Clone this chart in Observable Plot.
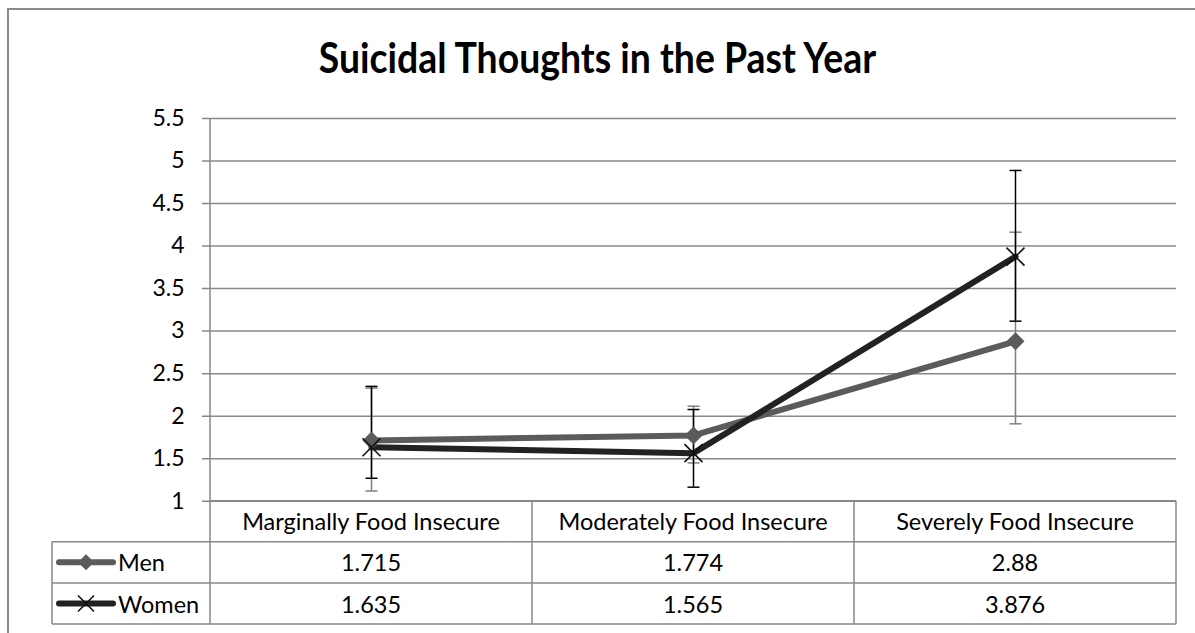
<!DOCTYPE html>
<html><head><meta charset="utf-8">
<script src="https://cdn.jsdelivr.net/npm/d3@7"></script>
<script src="https://cdn.jsdelivr.net/npm/@observablehq/plot@0.6"></script>
<style>
body{margin:0;background:#fff;}
#wrap{position:relative;width:1195px;height:633px;overflow:hidden;background:#fff;font-family:Lato,"Open Sans",sans-serif;color:#000;}
#wrap > *{position:absolute;}
.cell{display:flex;align-items:center;justify-content:center;font-size:23.5px;white-space:nowrap;}
</style></head><body><div id="wrap"></div>
<script>
// ---- data ----
const title = "Suicidal Thoughts in the Past Year";
const categories = ["Marginally Food Insecure", "Moderately Food Insecure", "Severely Food Insecure"];
const seriesNames = ["Men", "Women"];
const menValues = [1.715, 1.774, 2.88];
const womenValues = [1.635, 1.565, 3.876];
const menLow = [1.12, 1.45, 1.91];
const menHigh = [2.33, 2.117, 4.163];
const womenLow = [1.27, 1.165, 3.117];
const womenHigh = [2.35, 2.078, 4.889];
const yTicks = [1, 1.5, 2, 2.5, 3, 3.5, 4, 4.5, 5, 5.5];

// ---- styles ----
const menColor = "#5b5b5b", womenColor = "#222222";
const menBarColor = "#7f7f7f", womenBarColor = "#000000";
const gridColor = "#888888";

const W = 1195, H = 633;
const L = 210, R = 1176, T = 118, B = 500.7;

const men = categories.map((c, i) => ({cat: c, value: menValues[i], lo: menLow[i], hi: menHigh[i]}));
const women = categories.map((c, i) => ({cat: c, value: womenValues[i], lo: womenLow[i], hi: womenHigh[i]}));

const cap = {draw(ctx) { ctx.moveTo(-6, 0); ctx.lineTo(6, 0); }};
const diamond = {draw(ctx) { ctx.moveTo(0, -9); ctx.lineTo(9, 0); ctx.lineTo(0, 9); ctx.lineTo(-9, 0); ctx.closePath(); }};
const cross = {draw(ctx) { ctx.moveTo(-9, -9); ctx.lineTo(9, 9); ctx.moveTo(9, -9); ctx.lineTo(-9, 9); }};

const chart = Plot.plot({
  width: W, height: H,
  marginLeft: L, marginRight: W - R, marginTop: T, marginBottom: H - B,
  style: {fontFamily: "Lato, sans-serif", fontSize: "23px", color: "#000", background: "transparent", overflow: "visible"},
  x: {type: "point", domain: categories, padding: 0.5, axis: null},
  y: {domain: [1, 5.5], ticks: yTicks, tickSize: 0, tickPadding: 26, tickFormat: d => String(d)},
  marks: [
    Plot.ruleY(yTicks, {stroke: gridColor, strokeWidth: 1.5, insetLeft: -8}),
    Plot.line(men, {x: "cat", y: "value", stroke: menColor, strokeWidth: 6, strokeLinejoin: "round", strokeLinecap: "round"}),
    Plot.line(women, {x: "cat", y: "value", stroke: womenColor, strokeWidth: 6, strokeLinejoin: "round", strokeLinecap: "round"}),
    Plot.ruleX(men, {x: "cat", y1: "lo", y2: "hi", stroke: menBarColor, strokeWidth: 1.5}),
    Plot.dot(men, {x: "cat", y: "hi", symbol: cap, fill: "none", stroke: menBarColor, strokeWidth: 1.5}),
    Plot.dot(men, {x: "cat", y: "lo", symbol: cap, fill: "none", stroke: menBarColor, strokeWidth: 1.5}),
    Plot.ruleX(women, {x: "cat", y1: "lo", y2: "hi", stroke: womenBarColor, strokeWidth: 1.5}),
    Plot.dot(women, {x: "cat", y: "hi", symbol: cap, fill: "none", stroke: womenBarColor, strokeWidth: 1.5}),
    Plot.dot(women, {x: "cat", y: "lo", symbol: cap, fill: "none", stroke: womenBarColor, strokeWidth: 1.5}),
    Plot.dot(men, {x: "cat", y: "value", symbol: diamond, fill: menColor, stroke: "none"}),
    Plot.dot(women, {x: "cat", y: "value", symbol: cross, fill: "none", stroke: "#111", strokeWidth: 1.6})
  ]
});

const wrap = document.getElementById("wrap");

// outer frame
const frame = document.createElement("div");
Object.assign(frame.style, {left: "7px", top: "8px", width: "1300px", height: "800px", borderLeft: "2px solid #8a8a8a", borderTop: "2px solid #8a8a8a", boxSizing: "border-box"});
wrap.appendChild(frame);

chart.style.left = "0px"; chart.style.top = "0px";
wrap.appendChild(chart);

// title
const t = document.createElement("div");
t.textContent = title;
Object.assign(t.style, {left: "0px", width: "1195px", top: "36px", textAlign: "center", fontSize: "42px", fontWeight: "700", lineHeight: "42px", fontFamily: "Lato, sans-serif", transform: "scaleX(0.89)", transformOrigin: "598px 50%"});
wrap.appendChild(t);

// data table beneath the axis
const colX = [L, L + (R - L) / 3, L + 2 * (R - L) / 3, R];
const rowY = [B, 541.7, 583, 624];
const headLeft = 52;
const ns = "http://www.w3.org/2000/svg";
const grid = document.createElementNS(ns, "svg");
grid.setAttribute("width", W); grid.setAttribute("height", H);
grid.style.left = "0px"; grid.style.top = "0px";
function ln(x1, y1, x2, y2, c, w) {
  const e = document.createElementNS(ns, "line");
  e.setAttribute("x1", x1); e.setAttribute("y1", y1); e.setAttribute("x2", x2); e.setAttribute("y2", y2);
  e.setAttribute("stroke", c || gridColor); e.setAttribute("stroke-width", w || 1.5);
  grid.appendChild(e);
}
ln(L, T, L, rowY[3]);
for (let i = 1; i < colX.length; i++) ln(colX[i], rowY[0], colX[i], rowY[3]);
ln(headLeft, rowY[1], headLeft, rowY[3]);
ln(L, rowY[0], R, rowY[0]);
for (let j = 1; j < rowY.length; j++) ln(headLeft, rowY[j], R, rowY[j]);
// legend keys
seriesNames.forEach((s, j) => {
  const yc = (rowY[j + 1] + rowY[j + 2]) / 2;
  ln(59, yc, 113, yc, j === 0 ? menColor : womenColor, 6);
  grid.lastChild.setAttribute("stroke-linecap", "round");
  if (j === 0) {
    const p = document.createElementNS(ns, "path");
    p.setAttribute("d", `M86,${yc - 8}L94,${yc}L86,${yc + 8}L78,${yc}Z`);
    p.setAttribute("fill", menColor); grid.appendChild(p);
  } else {
    const p = document.createElementNS(ns, "path");
    p.setAttribute("d", `M78,${yc - 8}L94,${yc + 8}M94,${yc - 8}L78,${yc + 8}`);
    p.setAttribute("stroke", "#111"); p.setAttribute("stroke-width", 1.6); p.setAttribute("fill", "none"); grid.appendChild(p);
  }
});
wrap.appendChild(grid);

function cell(text, x1, x2, y1, y2, align) {
  const d = document.createElement("div");
  d.className = "cell";
  d.textContent = text;
  Object.assign(d.style, {left: x1 + "px", width: (x2 - x1) + "px", top: y1 + "px", height: (y2 - y1) + "px"});
  if (align) d.style.justifyContent = align;
  wrap.appendChild(d);
}
categories.forEach((c, i) => cell(c, colX[i], colX[i + 1], rowY[0], rowY[1]));
[menValues, womenValues].forEach((vals, j) => {
  cell(seriesNames[j], 118, L, rowY[j + 1], rowY[j + 2], "flex-start");
  vals.forEach((v, i) => cell(String(v), colX[i], colX[i + 1], rowY[j + 1], rowY[j + 2]));
});
</script>
</body></html>
